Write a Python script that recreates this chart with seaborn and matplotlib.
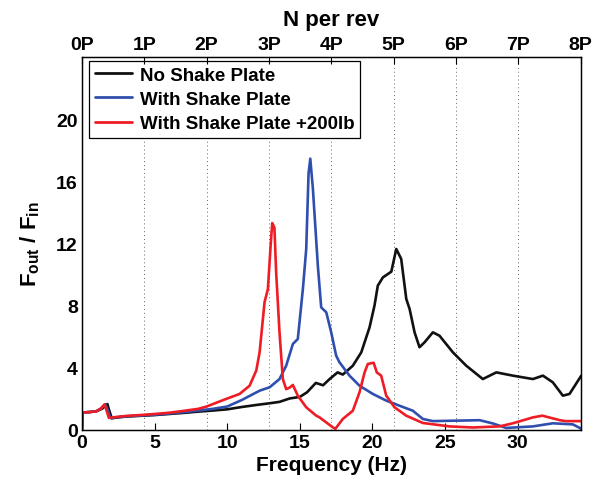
import numpy as np
import pandas as pd
import matplotlib
matplotlib.use("Agg")
import matplotlib.pyplot as plt
import seaborn as sns

# ---- data ----
freq_black = [0, 0.05, 0.5, 1.0, 1.4, 1.75, 1.85, 2.05, 2.3, 3, 4, 5, 6, 7, 8, 9, 10, 11, 12, 13, 13.6,
              14.3, 15.0, 15.5, 16.1, 16.6, 17.05, 17.6, 17.96, 18.65, 19.23, 19.8, 20.14, 20.37, 20.72,
              21.3, 21.64, 21.98, 22.33, 22.56, 22.9, 23.24, 23.59, 24.16, 24.62, 25.54, 26.46, 27.6,
              28.53, 29.67, 31.05, 31.74, 32.42, 33.11, 33.57, 34.38]
amp_black = [0, 1.1, 1.12, 1.18, 1.35, 1.64, 1.3, 0.72, 0.76, 0.83, 0.88, 0.93, 1.0, 1.07, 1.15, 1.22, 1.3,
             1.45, 1.58, 1.7, 1.78, 2.0, 2.1, 2.4, 3.0, 2.85, 3.25, 3.68, 3.54, 4.11, 4.97, 6.58, 7.98, 9.27,
             9.8, 10.17, 11.63, 10.99, 8.41, 7.76, 6.26, 5.3, 5.62, 6.26, 6.04, 4.97, 4.11, 3.25, 3.68, 3.47,
             3.25, 3.47, 3.04, 2.18, 2.29, 3.47]

freq_blue = [0, 0.05, 0.5, 1.0, 1.3, 1.6, 1.75, 1.95, 2.3, 3, 4, 5, 6, 7, 8, 9, 10, 11, 12.23, 12.92, 13.6,
             14.06, 14.52, 14.86, 15.21, 15.44, 15.6, 15.72, 15.9, 16.24, 16.47, 16.82, 17.16, 17.5, 17.73,
             18.42, 19.11, 20.03, 20.95, 21.87, 22.78, 23.47, 24.16, 27.38, 28.29, 29.21, 31.05, 32.42,
             33.8, 34.38]
amp_blue = [0, 1.1, 1.12, 1.18, 1.35, 1.62, 1.3, 0.74, 0.78, 0.85, 0.9, 0.95, 1.03, 1.12, 1.22, 1.33, 1.48,
            1.9, 2.5, 2.72, 3.25, 4.11, 5.51, 5.83, 9.05, 11.63, 16.5, 17.45, 15.5, 10.55, 7.87, 7.55, 6.26,
            4.76, 4.33, 3.47, 2.82, 2.29, 1.86, 1.53, 1.21, 0.68, 0.54, 0.6, 0.39, 0.1, 0.2, 0.4, 0.33, 0.05]

freq_red = [0, 0.05, 0.5, 1.0, 1.3, 1.55, 1.7, 1.85, 2.3, 3, 4, 5, 6, 7, 8, 8.55, 9.93, 10.85, 11.54, 12.0,
            12.23, 12.57, 12.8, 13.0, 13.1, 13.25, 13.37, 13.6, 13.83, 14.06, 14.3, 14.52, 14.86, 15.44,
            16.13, 16.36, 17.27, 17.45, 17.96, 18.65, 19.11, 19.46, 19.68, 20.08, 20.3, 20.6, 20.95, 21.52,
            22.33, 23.47, 25.3, 26.9, 28.75, 29.67, 31.05, 31.7, 32.9, 33.3, 34.38]
amp_red = [0, 1.1, 1.12, 1.18, 1.35, 1.62, 1.2, 0.75, 0.8, 0.87, 0.93, 1.0, 1.08, 1.2, 1.33, 1.47, 1.97,
           2.29, 2.82, 3.8, 4.97, 8.2, 9.05, 12.0, 13.3, 13.0, 10.1, 6.26, 3.25, 2.6, 2.7, 2.87, 2.18, 1.43,
           0.89, 0.78, 0.14, 0.05, 0.68, 1.21, 2.4, 3.68, 4.22, 4.3, 3.68, 3.47, 2.18, 1.43, 0.89, 0.42, 0.2,
           0.13, 0.2, 0.4, 0.78, 0.89, 0.6, 0.54, 0.54]

series_labels = ["No Shake Plate", "With Shake Plate", "With Shake Plate +200lb"]
series_colors = ["#111111", "#2f4fae", "#ee1c25"]

rev_hz = 4.2925            # 1P frequency
n_per_rev = list(range(0, 9))
per_rev_labels = [f"{k}P" for k in n_per_rev]
xticks_bottom = [0, 5, 10, 15, 20, 25, 30]
yticks = [0, 4, 8, 12, 16, 20]

# ---- style ----
sns.set_theme(style="white")
plt.rcParams["font.family"] = ["Liberation Sans", "DejaVu Sans"]
plt.rcParams["font.weight"] = "bold"
plt.rcParams["text.color"] = "black"
plt.rcParams["axes.labelcolor"] = "black"
plt.rcParams["xtick.color"] = "black"
plt.rcParams["ytick.color"] = "black"
plt.rcParams["mathtext.fontset"] = "custom"
plt.rcParams["mathtext.rm"] = "Liberation Sans:bold"
plt.rcParams["mathtext.bf"] = "Liberation Sans:bold"
plt.rcParams["mathtext.it"] = "Liberation Sans:bold"

fig = plt.figure(figsize=(5.97, 4.81), dpi=100)
ax = fig.add_axes([82 / 597, 1 - 430.5 / 481, (580.7 - 82) / 597, (430.5 - 58) / 481])

frames = []
for f, a, lab in [(freq_black, amp_black, series_labels[0]),
                  (freq_blue, amp_blue, series_labels[1]),
                  (freq_red, amp_red, series_labels[2])]:
    frames.append(pd.DataFrame({"Frequency": f, "Ratio": a, "Case": lab}))
df = pd.concat(frames, ignore_index=True)

for lab, col in zip(series_labels, series_colors):
    sub = df[df["Case"] == lab]
    sns.lineplot(data=sub, x="Frequency", y="Ratio", ax=ax, color=col, linewidth=1.9,
                 label=lab, sort=False, estimator=None)

xmax = 8 * rev_hz
ax.set_xlim(0, xmax)
ax.set_ylim(0, 24)
ax.set_xticks(xticks_bottom)
ax.set_yticks(yticks)
ax.set_xticks([k * rev_hz for k in n_per_rev], minor=True)
ax.grid(False)
ax.grid(which="minor", axis="x", linestyle=(0, (1, 3)), color="#666666", linewidth=0.7)
ax.tick_params(axis="both", which="major", direction="in", length=5, width=0.8,
               labelsize=14, pad=3, colors="black")
ax.tick_params(axis="x", which="minor", length=0)
for lbl in ax.get_xticklabels() + ax.get_yticklabels():
    lbl.set_fontweight("bold")
for sp in ax.spines.values():
    sp.set_color("black")
    sp.set_linewidth(0.9)

ax.set_xlabel("Frequency (Hz)", fontsize=15, fontweight="bold", labelpad=3)
ax.set_ylabel(r"$\mathbf{F_{out}}$ / $\mathbf{F_{in}}$", fontsize=16, fontweight="bold", labelpad=10)

ax2 = ax.twiny()
ax2.set_xlim(0, xmax)
ax2.set_xticks([k * rev_hz for k in n_per_rev])
ax2.set_xticklabels(per_rev_labels, fontsize=14, fontweight="bold")
ax2.tick_params(axis="x", direction="in", length=5, width=0.8, pad=3, colors="black")
ax2.set_xlabel("N per rev", fontsize=16, fontweight="bold", labelpad=8)
ax2.grid(False)
for sp in ax2.spines.values():
    sp.set_color("black")
    sp.set_linewidth(0.9)

leg = ax.legend(loc="upper left", bbox_to_anchor=((89 - 82) / 498.7, (430.5 - 62) / 372.5),
                borderaxespad=0, fontsize=13.5, frameon=True, fancybox=False,
                handlelength=2.0, handletextpad=0.4, labelspacing=0.38, borderpad=0.3)
leg.get_frame().set_edgecolor("black")
leg.get_frame().set_linewidth(0.9)
leg.get_frame().set_alpha(1)
for t in leg.get_texts():
    t.set_fontweight("bold")
    t.set_color("black")
for h in leg.get_lines():
    h.set_linewidth(2.0)

fig.savefig("out.png", dpi=100)
